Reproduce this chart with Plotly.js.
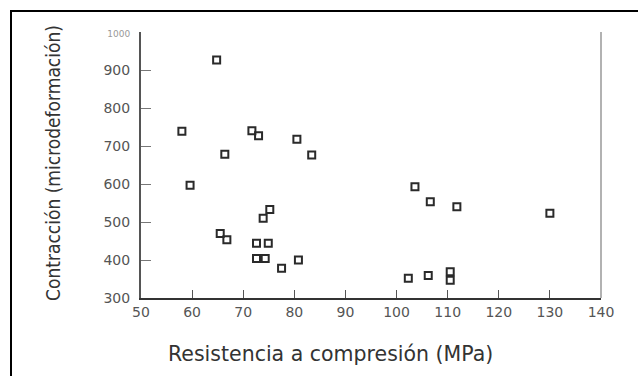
<!DOCTYPE html>
<html>
<head>
<meta charset="utf-8">
<script src="https://cdn.plot.ly/plotly-3.0.1.min.js"></script>
<style>
html,body{margin:0;padding:0;background:#fff;}
#wrap{position:relative;width:638px;height:376px;overflow:hidden;}
#chart{position:absolute;left:0;top:0;width:638px;height:376px;}
#frame{position:absolute;left:10px;top:10px;width:640px;height:400px;border-left:2px solid #000;border-top:2px solid #000;pointer-events:none;}
</style>
</head>
<body>
<div id="wrap"><div id="chart"></div><div id="frame"></div></div>
<script>
// Resistencia a compresión (MPa)
const resistencia = [64.8, 58.0, 59.6, 66.4, 71.7, 73.0, 80.5, 83.4,
  73.9, 75.2, 65.5, 66.8, 72.6, 74.9, 72.6, 74.3, 77.5, 80.8,
  103.6, 106.6, 111.8, 130.0, 102.3, 106.2, 110.5, 110.5];
// Contracción (microdeformación)
const contraccion = [926, 739, 597, 678, 740, 727, 718, 676,
  510, 533, 470, 453, 444, 444, 404, 404, 378, 400,
  593, 553, 540, 523, 352, 359, 369, 347];
const xTicks = [50, 60, 70, 80, 90, 100, 110, 120, 130, 140];
const yTicks = [300, 400, 500, 600, 700, 800, 900, 1000];

const tickFont = {family: 'DejaVu Sans, sans-serif', size: 14, color: '#555'};
const yTickText = yTicks.map(v => v === 1000 ? '<span style="font-size:9px;color:#999">1000</span>' : String(v));

Plotly.newPlot('chart', [{
  type: 'scatter',
  mode: 'markers',
  x: resistencia,
  y: contraccion,
  marker: {symbol: 'square-open', size: 7, color: '#2a2a2a', line: {width: 2, color: '#2a2a2a'}},
  hoverinfo: 'none'
}], {
  width: 638, height: 376,
  margin: {l: 141, r: 37, t: 32, b: 78},
  paper_bgcolor: '#fff', plot_bgcolor: '#fff',
  showlegend: false,
  xaxis: {
    range: [50, 140], tickvals: xTicks, ticktext: xTicks.map(String),
    ticks: 'inside', ticklen: 8, tickwidth: 1, tickcolor: '#555',
    showline: true, linecolor: '#333', linewidth: 2,
    showgrid: false, zeroline: false, tickfont: tickFont
  },
  yaxis: {
    range: [300, 1000], tickvals: yTicks, ticktext: yTickText,
    ticks: 'inside', ticklen: 10, tickwidth: 1, tickcolor: '#777',
    showline: true, linecolor: '#555', linewidth: 2,
    showgrid: false, zeroline: false, tickfont: tickFont, ticklabelstandoff: 6
  },
  shapes: [{type: 'line', xref: 'paper', yref: 'paper', x0: 1, x1: 1, y0: 0, y1: 1,
    line: {color: '#999', width: 1.5}}],
  annotations: [
    {text: 'Resistencia a compresión (MPa)', xref: 'paper', yref: 'paper',
     x: 0.412, y: 0, xanchor: 'center', yanchor: 'middle', yshift: -56, showarrow: false,
     font: {family: 'DejaVu Sans, sans-serif', size: 20.5, color: '#333'}},
    {text: 'Contracción (microdeformación)', xref: 'paper', yref: 'paper',
     x: -0.191, y: 0.508, xanchor: 'center', yanchor: 'middle', textangle: -90, showarrow: false,
     font: {family: 'Liberation Sans Narrow, DejaVu Sans Condensed, sans-serif', size: 19, color: '#333'}}
  ]
}, {staticPlot: true, displayModeBar: false});
</script>
</body>
</html>
